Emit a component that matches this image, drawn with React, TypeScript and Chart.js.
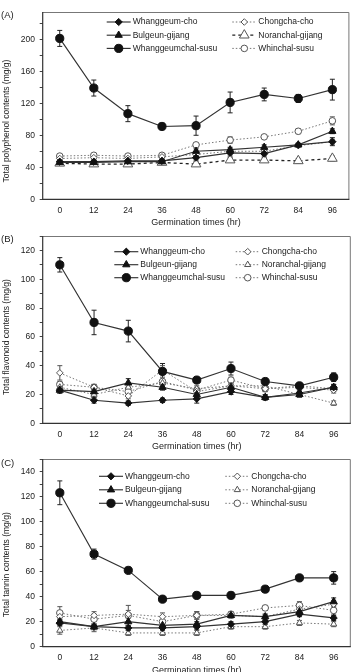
import React, { useEffect, useRef } from 'react';
import { Chart, registerables } from 'chart.js';

Chart.register(...registerables);

// ---------- data ----------
const timeLabels = ['0', '12', '24', '36', '48', '60', '72', '84', '96'];
const seriesNames = [
  'Whanggeum-cho',
  'Bulgeun-gijang',
  'Whanggeumchal-susu',
  'Chongcha-cho',
  'Noranchal-gijang',
  'Whinchal-susu',
];

// (A) Total polyphenol contents (mg/g)
const polyWhanggeumCho = [47, 47, 48, 48, 52, 58, 57, 68, 72];
const polyWhanggeumChoErr = [2, 2, 2, 2, 3, 4, 3, 2, 5];
const polyBulgeunGijang = [46, 46, 47, 47, 60, 62, 65, 68, 85];
const polyBulgeunGijangErr = [2, 2, 2, 2, 3, 3, 3, 2, 3];
const polyWhanggeumchalSusu = [201, 139, 107, 91, 92, 121, 131, 126, 137];
const polyWhanggeumchalSusuErr = [10, 10, 10, 2, 12, 13, 8, 5, 13];
const polyChongchaCho = [51, 52, 51, 53, 56, 60, 60, 67, 72];
const polyChongchaChoErr = [2, 2, 2, 2, 2, 3, 3, 2, 3];
const polyNoranchalGijang = [45, 44, 44, 46, 44, 49, 49, 48, 51];
const polyNoranchalGijangErr = [2, 2, 2, 2, 3, 3, 3, 3, 3];
const polyWhinchalSusu = [54, 55, 54, 55, 68, 74, 78, 85, 98];
const polyWhinchalSusuErr = [2, 2, 2, 2, 2, 4, 2, 3, 5];

// (B) Total flavonoid contents (mg/g)
const flavWhanggeumCho = [23, 16, 14, 16, 17, 22, 18, 21, 25];
const flavWhanggeumChoErr = [2, 2, 1.5, 1.5, 3, 2, 1.5, 1.5, 2];
const flavBulgeunGijang = [23, 22, 28, 25, 20, 25, 18, 20, 25];
const flavBulgeunGijangErr = [2, 2, 3, 2, 2, 2, 2, 2, 2];
const flavWhanggeumchalSusu = [110, 70, 64, 36, 30, 38, 29, 26, 32];
const flavWhanggeumchalSusuErr = [5, 8.5, 7.5, 5.5, 2, 4.5, 2, 1.5, 3];
const flavChongchaCho = [35, 25, 19, 37, 22, 26, 24, 25, 23];
const flavChongchaChoErr = [5, 2, 2, 3, 2, 2, 2, 2, 2];
const flavNoranchalGijang = [25, 20, 25, 28, 24, 26, 26, 20, 14];
const flavNoranchalGijangErr = [2, 2, 2, 2, 2, 2, 2, 2, 1.5];
const flavWhinchalSusu = [27, 25, 22, 29, 23, 30, 24, 26, 24];
const flavWhinchalSusuErr = [2, 2, 3, 3, 2, 2, 2, 2, 2];

// (C) Total tannin contents (mg/g)
const tanWhanggeumCho = [19, 16, 15, 15, 16, 18, 20, 26, 23];
const tanWhanggeumChoErr = [2, 2, 2, 2, 2, 2, 2, 2, 2];
const tanBulgeunGijang = [20, 16, 20, 17, 18, 25, 24, 28, 36];
const tanBulgeunGijangErr = [2, 2, 3, 2, 2, 2, 2, 2, 3];
const tanWhanggeumchalSusu = [123, 74, 61, 38, 41, 41, 46, 55, 55];
const tanWhanggeumchalSusuErr = [9.5, 4, 1.5, 1.5, 1, 1, 2, 1, 5];
const tanChongchaCho = [24, 25, 26, 24, 25, 25, 24, 30, 34];
const tanChongchaChoErr = [3, 3, 3, 3, 3, 2, 2, 3, 3];
const tanNoranchalGijang = [13, 15, 11, 11, 11, 16, 16, 19, 18];
const tanNoranchalGijangErr = [3, 3, 2, 2, 2, 2, 2, 2, 2];
const tanWhinchalSusu = [27, 22, 25, 20, 25, 26, 31, 33, 29];
const tanWhinchalSusuErr = [5, 4, 8, 4, 3, 2, 2, 3, 3];

// ---------- styles ----------
const FONT = "'Liberation Sans', Arial, sans-serif";
const TEXT = '#222';
const CANVAS_W = 356;
const CANVAS_H = 232;

type St = { ps: string; r: number; fill: string; stroke: string; line: string; dash: number[]; lw: number; err: string };
const baseStyles: St[] = [
  { ps: 'rectRot', r: 3.6, fill: '#111', stroke: '#111', line: '#333', dash: [], lw: 1.15, err: '#222' },
  { ps: 'triangle', r: 4.2, fill: '#111', stroke: '#111', line: '#333', dash: [], lw: 1.15, err: '#222' },
  { ps: 'circle', r: 4.1, fill: '#111', stroke: '#111', line: '#333', dash: [], lw: 1.15, err: '#222' },
  { ps: 'rectRot', r: 3.3, fill: '#fff', stroke: '#555', line: '#777', dash: [1.5, 2], lw: 1, err: '#555' },
  { ps: 'triangle', r: 3.6, fill: '#fff', stroke: '#555', line: '#777', dash: [1.5, 2], lw: 1, err: '#555' },
  { ps: 'circle', r: 3.3, fill: '#fff', stroke: '#555', line: '#777', dash: [1.5, 2], lw: 1, err: '#555' },
];

type Cfg = {
  tag: string;
  top: number;
  yTitle: string;
  yTitleCy: number;
  yMax: number;
  yStep: number;
  yLabelEvery: number;
  areaTop: number;
  areaBottom: number;
  values: number[][];
  errs: number[][];
  legendY: number;
  legendDy: number;
  legendX: [number, number];
  styles: St[];
};

const panels: Cfg[] = [
  {
    tag: '(A)', top: 0, yTitle: 'Total polyphenol contents (mg/g)', yTitleCy: 121,
    yMax: 234, yStep: 20, yLabelEvery: 40, areaTop: 12, areaBottom: 199.3,
    values: [polyWhanggeumCho, polyBulgeunGijang, polyWhanggeumchalSusu, polyChongchaCho, polyNoranchalGijang, polyWhinchalSusu],
    errs: [polyWhanggeumChoErr, polyBulgeunGijangErr, polyWhanggeumchalSusuErr, polyChongchaChoErr, polyNoranchalGijangErr, polyWhinchalSusuErr],
    legendY: 22, legendDy: 13.2, legendX: [106.7, 232.3],
    styles: baseStyles.map((s, i) => (i === 4 ? { ...s, r: 5.6, line: '#222', dash: [3, 3], lw: 1.3, stroke: '#555' } : s)),
  },
  {
    tag: '(B)', top: 224, yTitle: 'Total flavonoid contents (mg/g)', yTitleCy: 113,
    yMax: 130, yStep: 10, yLabelEvery: 20, areaTop: 12, areaBottom: 199.3,
    values: [flavWhanggeumCho, flavBulgeunGijang, flavWhanggeumchalSusu, flavChongchaCho, flavNoranchalGijang, flavWhinchalSusu],
    errs: [flavWhanggeumChoErr, flavBulgeunGijangErr, flavWhanggeumchalSusuErr, flavChongchaChoErr, flavNoranchalGijangErr, flavWhinchalSusuErr],
    legendY: 27.7, legendDy: 13, legendX: [114.3, 235.7],
    styles: baseStyles,
  },
  {
    tag: '(C)', top: 448, yTitle: 'Total tannin contents (mg/g)', yTitleCy: 116.7,
    yMax: 150, yStep: 10, yLabelEvery: 20, areaTop: 11, areaBottom: 198.7,
    values: [tanWhanggeumCho, tanBulgeunGijang, tanWhanggeumchalSusu, tanChongchaCho, tanNoranchalGijang, tanWhinchalSusu],
    errs: [tanWhanggeumChoErr, tanBulgeunGijangErr, tanWhanggeumchalSusuErr, tanChongchaChoErr, tanNoranchalGijangErr, tanWhinchalSusuErr],
    legendY: 28.3, legendDy: 13.5, legendX: [99, 225.3],
    styles: baseStyles,
  },
];

function drawMarker(ctx: CanvasRenderingContext2D, s: St, x: number, y: number) {
  const r = s.r;
  ctx.save();
  ctx.setLineDash([]);
  ctx.beginPath();
  if (s.ps === 'circle') {
    ctx.arc(x, y, r, 0, Math.PI * 2);
  } else if (s.ps === 'triangle') {
    ctx.moveTo(x, y - r);
    ctx.lineTo(x + r * 0.866, y + r * 0.5);
    ctx.lineTo(x - r * 0.866, y + r * 0.5);
    ctx.closePath();
  } else {
    ctx.moveTo(x - r, y);
    ctx.lineTo(x, y - r);
    ctx.lineTo(x + r, y);
    ctx.lineTo(x, y + r);
    ctx.closePath();
  }
  ctx.fillStyle = s.fill;
  ctx.fill();
  ctx.lineWidth = 1;
  ctx.strokeStyle = s.stroke;
  ctx.stroke();
  ctx.restore();
}

function Panel({ cfg }: { cfg: Cfg }) {
  const ref = useRef<HTMLCanvasElement>(null);

  useEffect(() => {
    const canvas = ref.current;
    if (!canvas) return;

    const extras = {
      id: 'extras',
      beforeDatasetsDraw(chart: any) {
        const ctx: CanvasRenderingContext2D = chart.ctx;
        const a = chart.chartArea;
        const ys = chart.scales.y;
        // frame
        ctx.save();
        ctx.lineWidth = 1;
        ctx.strokeStyle = '#777';
        ctx.beginPath();
        ctx.moveTo(a.left, a.top + 0.5);
        ctx.lineTo(a.right - 0.5, a.top + 0.5);
        ctx.lineTo(a.right - 0.5, a.bottom);
        ctx.stroke();
        ctx.strokeStyle = '#333';
        ctx.lineWidth = 1.2;
        ctx.beginPath();
        ctx.moveTo(a.left, a.top);
        ctx.lineTo(a.left, a.bottom);
        ctx.lineTo(a.right, a.bottom);
        ctx.stroke();
        ctx.restore();
        // error bars
        chart.data.datasets.forEach((ds: any, i: number) => {
          const meta = chart.getDatasetMeta(i);
          const st = cfg.styles[i];
          ctx.save();
          ctx.strokeStyle = st.err;
          ctx.lineWidth = 1;
          ctx.setLineDash([]);
          meta.data.forEach((pt: any, j: number) => {
            const v = ds.data[j];
            const e = cfg.errs[i][j];
            const y1 = ys.getPixelForValue(v + e);
            const y2 = ys.getPixelForValue(v - e);
            const x = pt.x;
            ctx.beginPath();
            ctx.moveTo(x, y1);
            ctx.lineTo(x, y2);
            ctx.moveTo(x - 2.5, y1);
            ctx.lineTo(x + 2.5, y1);
            ctx.moveTo(x - 2.5, y2);
            ctx.lineTo(x + 2.5, y2);
            ctx.stroke();
          });
          ctx.restore();
        });
      },
      afterDraw(chart: any) {
        const ctx: CanvasRenderingContext2D = chart.ctx;
        ctx.save();
        // panel tag
        ctx.fillStyle = TEXT;
        ctx.font = `9.5px ${FONT}`;
        ctx.textAlign = 'left';
        ctx.textBaseline = 'middle';
        ctx.fillText(cfg.tag, 1, 15);
        // y title
        ctx.save();
        ctx.translate(6.7, cfg.yTitleCy);
        ctx.rotate(-Math.PI / 2);
        ctx.font = `8.5px ${FONT}`;
        ctx.textAlign = 'center';
        ctx.textBaseline = 'middle';
        ctx.fillText(cfg.yTitle, 0, 0);
        ctx.restore();
        // legend
        seriesNames.forEach((name, i) => {
          const col = i < 3 ? 0 : 1;
          const row = i % 3;
          const st = cfg.styles[i];
          const x0 = cfg.legendX[col];
          const y = cfg.legendY + row * cfg.legendDy;
          ctx.save();
          ctx.strokeStyle = st.line;
          ctx.lineWidth = st.lw;
          ctx.setLineDash(st.dash);
          ctx.beginPath();
          ctx.moveTo(x0, y);
          ctx.lineTo(x0 + 24, y);
          ctx.stroke();
          ctx.restore();
          drawMarker(ctx, st, x0 + 12, y);
          ctx.fillStyle = TEXT;
          ctx.font = `8.5px ${FONT}`;
          ctx.textAlign = 'left';
          ctx.textBaseline = 'middle';
          ctx.fillText(name, x0 + 26, y);
        });
        ctx.restore();
      },
    };

    const chart = new Chart(canvas, {
      type: 'line',
      data: {
        labels: timeLabels,
        datasets: seriesNames.map((name, i) => {
          const st = cfg.styles[i];
          return {
            label: name,
            data: cfg.values[i],
            borderColor: st.line,
            borderWidth: st.lw,
            borderDash: st.dash,
            pointStyle: st.ps as any,
            pointRadius: st.r,
            pointBackgroundColor: st.fill,
            pointBorderColor: st.stroke,
            pointBorderWidth: 1,
            fill: false,
            tension: 0,
          };
        }),
      },
      options: {
        responsive: false,
        animation: false,
        devicePixelRatio: 1,
        layout: { padding: { top: cfg.areaTop, right: 3.7, left: 0, bottom: 0 } },
        plugins: { legend: { display: false }, tooltip: { enabled: false } },
        scales: {
          x: {
            type: 'category',
            offset: true,
            grid: { display: false, drawTicks: false },
            border: { display: false },
            ticks: { padding: 6, color: TEXT, font: { family: FONT, size: 8.5 }, maxRotation: 0, autoSkip: false },
            title: {
              display: true,
              text: 'Germination times (hr)',
              color: TEXT,
              font: { family: FONT, size: 9 },
              padding: { top: 0, bottom: 4.1 },
            },
            afterFit: (s: any) => {
              s.height = CANVAS_H - cfg.areaBottom;
            },
          },
          y: {
            min: 0,
            max: cfg.yMax,
            grid: { drawOnChartArea: false, drawTicks: true, tickLength: 3, color: '#444' },
            border: { display: false },
            ticks: {
              stepSize: cfg.yStep,
              includeBounds: false,
              autoSkip: false,
              padding: 4.7,
              color: TEXT,
              font: { family: FONT, size: 8.5 },
              callback: (v: any) => (Number(v) % cfg.yLabelEvery === 0 ? String(v) : ''),
            },
            afterFit: (s: any) => {
              s.width = 42.7;
            },
          },
        },
      } as any,
      plugins: [extras],
    });

    return () => chart.destroy();
  }, [cfg]);

  return (
    <canvas
      ref={ref}
      width={CANVAS_W}
      height={CANVAS_H}
      style={{ position: 'absolute', left: 0, top: cfg.top, width: CANVAS_W, height: CANVAS_H }}
    />
  );
}

export default function App() {
  return (
    <div
      style={{
        position: 'fixed',
        left: 0,
        top: 0,
        width: 356,
        height: 672,
        overflow: 'hidden',
        background: '#fff',
      }}
    >
      {panels.map((p) => (
        <Panel key={p.tag} cfg={p} />
      ))}
    </div>
  );
}
